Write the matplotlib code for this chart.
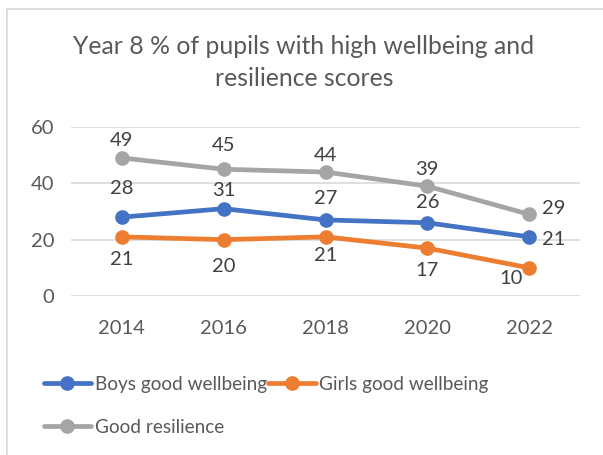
import matplotlib
matplotlib.use("Agg")
import matplotlib.pyplot as plt
from matplotlib.lines import Line2D

plt.rcParams['font.family'] = ['Lato', 'DejaVu Sans']

years = ["2014", "2016", "2018", "2020", "2022"]
boys = [28, 31, 27, 26, 21]
girls = [21, 20, 21, 17, 10]
resilience = [49, 45, 44, 39, 29]
series_names = ["Boys good wellbeing", "Girls good wellbeing", "Good resilience"]
yticks = [0, 20, 40, 60]

colors = ["#4472C4", "#ED7D31", "#A5A5A5"]
# label offsets in pixels (dx, dy) for each series / point
offsets = [
    [(0, 29), (0, 18), (0, 21), (0, 20), (25, -3)],
    [(0, -23), (0, -27), (0, -19), (0, -22), (-18, -11)],
    [(0, 17), (0, 24), (0, 17), (0, 17), (25, 6)],
]

fig = plt.figure(figsize=(6.03, 4.55), dpi=100)
W, H = 603, 455
ax = fig.add_axes([71 / W, 1 - 296 / H, (580 - 71) / W, (296 - 127) / H])

x = list(range(len(years)))
handles = []
for vals, name, c, offs in zip([boys, girls, resilience], series_names, colors, offsets):
    h, = ax.plot(x, vals, color=c, lw=3.4, marker='o', markersize=9.5,
                 solid_capstyle='round', label=name, zorder=3)
    handles.append(h)
    for xi, v, (dx, dy) in zip(x, vals, offs):
        ax.annotate(str(v), (xi, v), xytext=(dx, dy), textcoords='offset pixels',
                    ha='center', va='center', fontsize=14.5, color='#404040', zorder=4)

# leader line for first boys label
p = ax.transData.transform((0, boys[0]))
fig.add_artist(Line2D([p[0] + 0.5, p[0] + 2], [p[1] + 4, p[1] + 14],
                      transform=None, color='#A6A6A6', lw=1.0))

ax.set_xlim(-0.5, len(years) - 0.5)
ax.set_ylim(0, 60)
ax.set_xticks(x)
ax.set_xticklabels(years)
ax.set_yticks(yticks)
ax.tick_params(axis='both', length=0, labelsize=14.5, labelcolor='#595959')
ax.tick_params(axis='x', pad=17)
ax.tick_params(axis='y', pad=12)
ax.grid(axis='y', color='#D9D9D9', lw=1.2)
ax.set_axisbelow(True)
for s in ax.spines.values():
    s.set_visible(False)

fig.text(304 / W, 1 - 47 / H, "Year 8 % of pupils with high wellbeing and",
         ha='center', va='center', fontsize=17.8, color='#595959')
fig.text(304 / W, 1 - 78 / H, "resilience scores",
         ha='center', va='center', fontsize=17.8, color='#595959')

leg = fig.legend([handles[0], handles[2], handles[1]],
                 [series_names[0], series_names[2], series_names[1]],
                 ncol=2, loc='upper left', bbox_to_anchor=(36 / W, 1 - 368 / H),
                 frameon=False, fontsize=13.7, handlelength=2.5, handletextpad=0.2,
                 columnspacing=0.05, labelspacing=1.38, borderaxespad=0)
for t in leg.get_texts():
    t.set_color('#595959')

# chart border (left/top visible)
fig.add_artist(Line2D([6.5 / W, 6.5 / W], [0, 1 - 8.5 / H], transform=fig.transFigure,
                      color='#D9D9D9', lw=1.2))
fig.add_artist(Line2D([6.5 / W, 1], [1 - 8.5 / H, 1 - 8.5 / H], transform=fig.transFigure,
                      color='#D9D9D9', lw=1.2))

fig.savefig("out.png", dpi=100, facecolor='white')
